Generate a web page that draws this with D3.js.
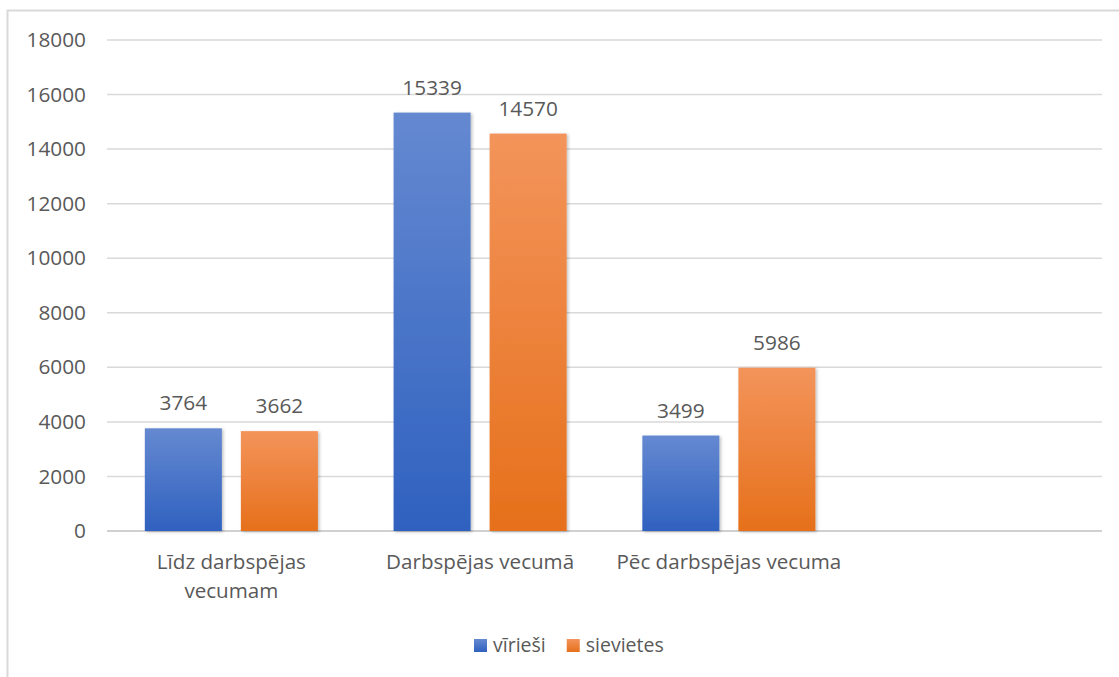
<!DOCTYPE html>
<html>
<head>
<meta charset="utf-8">
<script src="https://cdn.jsdelivr.net/npm/d3@7"></script>
<style>
  html, body { margin: 0; padding: 0; background: #fff; }
  text { font-family: "Open Sans", sans-serif; fill: #595959; }
</style>
</head>
<body>
<div id="chart"></div>
<script>
// chart data
const categories = ["Līdz darbspējas vecumam", "Darbspējas vecumā", "Pēc darbspējas vecuma", ""]
const series = ["vīrieši", "sievietes"]
const virieši = [3764, 15339, 3499, null]
const sievietes = [3662, 14570, 5986, null]
const yTicks = [0, 2000, 4000, 6000, 8000, 10000, 12000, 14000, 16000, 18000]

const width = 1119
const height = 677
const margin = { top: 40, right: 17, bottom: 146, left: 107 }

const colors = {
    "vīrieši": ["#6589d1", "#2f61bf"],
    "sievietes": ["#f3945b", "#e6701b"]
}

const values = { "vīrieši": virieši, "sievietes": sievietes }

const svg = d3.select("#chart")
    .append("svg")
    .attr("width", width)
    .attr("height", height)

const defs = svg.append("defs")

series.forEach((s, i) => {
    const g = defs.append("linearGradient")
        .attr("id", "grad" + i)
        .attr("x1", 0).attr("y1", 0).attr("x2", 0).attr("y2", 1)
    g.append("stop").attr("offset", "0%").attr("stop-color", colors[s][0])
    g.append("stop").attr("offset", "100%").attr("stop-color", colors[s][1])
})

const shadow = defs.append("filter")
    .attr("id", "shadow")
    .attr("x", "-10%").attr("y", "-10%")
    .attr("width", "130%").attr("height", "130%")
shadow.append("feDropShadow")
    .attr("dx", 1.5).attr("dy", 1)
    .attr("stdDeviation", 1.5)
    .attr("flood-color", "#000")
    .attr("flood-opacity", 0.25)

// outer chart border (cropped on right/bottom)
svg.append("rect")
    .attr("x", 7.5).attr("y", 10.5)
    .attr("width", 1300).attr("height", 900)
    .attr("fill", "none")
    .attr("stroke", "#d9d9d9")
    .attr("stroke-width", 2)

const x0 = d3.scaleBand()
    .domain(categories.map((d, i) => i))
    .range([margin.left, width - margin.right])
    .padding(0)

const x1 = d3.scaleBand()
    .domain(series)
    .range([0, x0.bandwidth()])
    .paddingInner(0.198)
    .paddingOuter(0.394)

const y = d3.scaleLinear()
    .domain([0, 18000])
    .range([height - margin.bottom, margin.top])

// gridlines
svg.append("g")
    .selectAll("line")
    .data(yTicks)
    .enter()
    .append("line")
    .attr("x1", margin.left)
    .attr("x2", width - margin.right)
    .attr("y1", d => y(d))
    .attr("y2", d => y(d))
    .attr("stroke", d => d === 0 ? "#d0d0d0" : "#d9d9d9")
    .attr("stroke-width", d => d === 0 ? 2 : 1.5)

// y axis labels
const yAxis = svg.append("g")
    .attr("transform", `translate(${margin.left - 21},0)`)
    .call(d3.axisLeft(y).tickValues(yTicks).tickSize(0).tickPadding(0).tickFormat(d3.format("d")))
yAxis.select(".domain").remove()
yAxis.selectAll("text")
    .attr("font-size", 20.8)
    .attr("font-family", "Open Sans")
    .attr("fill", "#595959")

// bars
const groups = svg.append("g")
    .selectAll("g")
    .data(categories.map((c, i) => i))
    .enter()
    .append("g")
    .attr("transform", i => `translate(${x0(i)},0)`)

groups.selectAll("rect")
    .data(i => series.map((s, k) => ({ s, k, v: values[s][i] })).filter(d => d.v != null))
    .enter()
    .append("rect")
    .attr("x", d => x1(d.s))
    .attr("y", d => y(d.v))
    .attr("width", x1.bandwidth())
    .attr("height", d => y(0) - y(d.v))
    .attr("fill", d => `url(#grad${d.k})`)
    .attr("filter", "url(#shadow)")

groups.selectAll("text.val")
    .data(i => series.map((s, k) => ({ s, k, v: values[s][i] })).filter(d => d.v != null))
    .enter()
    .append("text")
    .attr("class", "val")
    .attr("x", d => x1(d.s) + x1.bandwidth() / 2)
    .attr("y", d => y(d.v) - 18)
    .attr("text-anchor", "middle")
    .attr("font-size", 20.8)
    .text(d => d.v)

// category labels with wrapping
const xAxis = svg.append("g")
    .attr("transform", `translate(0,${y(0)})`)
    .call(d3.axisBottom(x0).tickSize(0).tickFormat(""))
xAxis.select(".domain").remove()

const catLabels = svg.append("g")
    .selectAll("text")
    .data(categories.map((c, i) => ({ c, i })))
    .enter()
    .append("text")
    .attr("x", d => x0(d.i) + x0.bandwidth() / 2)
    .attr("y", y(0) + 38)
    .attr("text-anchor", "middle")
    .attr("font-size", 20.6)

catLabels.each(function(d) {
    const el = d3.select(this)
    const words = d.c.split(" ")
    const maxW = x0.bandwidth() * 0.94
    let line = []
    let lines = []
    const probe = el.append("tspan")
    words.forEach(w => {
        const test = line.concat([w]).join(" ")
        probe.text(test)
        if (probe.node().getComputedTextLength() > maxW && line.length) {
            lines.push(line.join(" "))
            line = [w]
        } else {
            line.push(w)
        }
    })
    if (line.length) lines.push(line.join(" "))
    probe.remove()
    lines.forEach((l, k) => {
        el.append("tspan")
            .attr("x", x0(d.i) + x0.bandwidth() / 2)
            .attr("dy", k === 0 ? 0 : 29)
            .text(l)
    })
})

// legend
const legend = svg.append("g")
    .attr("transform", "translate(474,652)")

let offset = 0
series.forEach((s, k) => {
    const item = legend.append("g").attr("transform", `translate(${offset},0)`)
    item.append("rect")
        .attr("x", 0).attr("y", -13)
        .attr("width", 13).attr("height", 13)
        .attr("fill", `url(#grad${k})`)
    const t = item.append("text")
        .attr("x", 19).attr("y", 0)
        .attr("font-size", 19.5)
        .text(s)
    offset += 19 + t.node().getComputedTextLength() + 21
})
</script>
</body>
</html>
